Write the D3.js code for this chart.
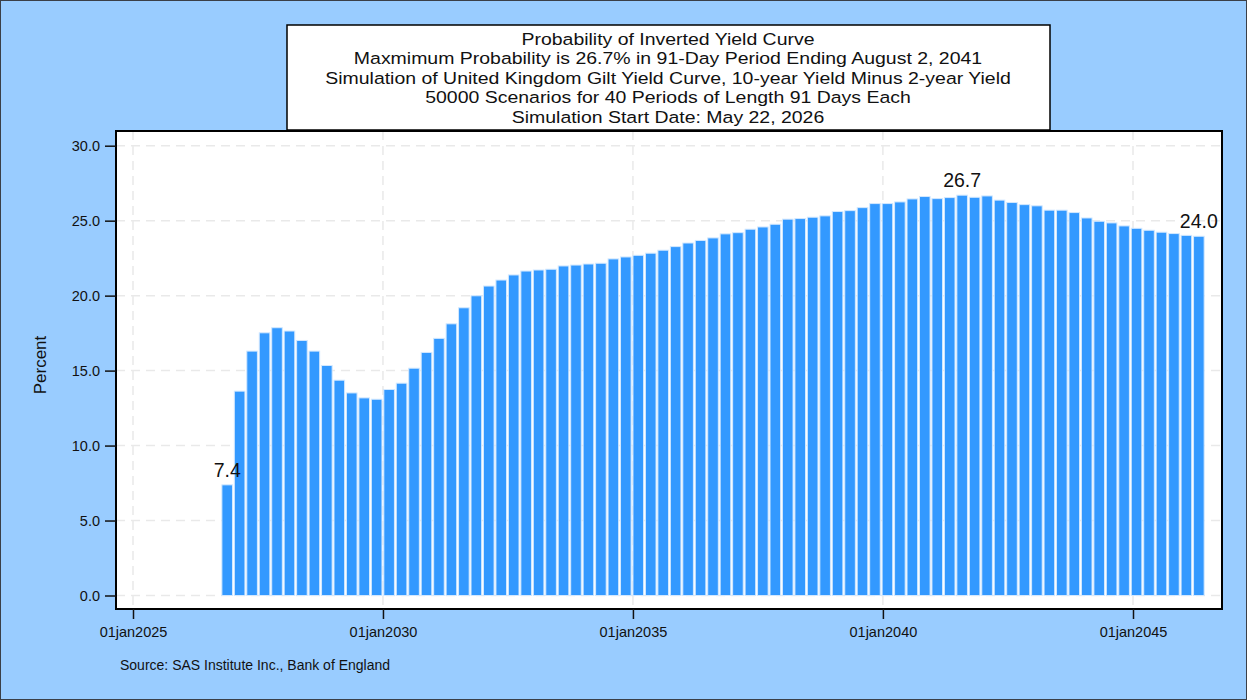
<!DOCTYPE html>
<html>
<head>
<meta charset="utf-8">
<script src="https://cdn.jsdelivr.net/npm/d3@7"></script>
<style>
  body { margin: 0; background: #fff; }
  text { font-family: "Liberation Sans", Arial, sans-serif; fill: #111; }
</style>
</head>
<body>
<script>
const SvgWidth = 1247, SvgHeight = 700;
var plot = {left: 116, top: 131, right: 1222, bottom: 609};
var Width = plot.right - plot.left;
var Height = plot.bottom - plot.top;

// simulation periods: 91 days each from the start date, bars at period end
const startDate = new Date(Date.UTC(2026, 4, 22));
const periodDays = 91;
const firstPeriod = 2;
var probability = [
  7.38, 13.63, 16.30, 17.52, 17.86, 17.64, 17.01, 16.30, 15.34, 14.36,
  13.51, 13.18, 13.09, 13.74, 14.16, 15.16, 16.21, 17.15, 18.12, 19.19,
  19.99, 20.64, 21.04, 21.38, 21.64, 21.71, 21.76, 21.98, 22.04, 22.11,
  22.16, 22.45, 22.58, 22.69, 22.83, 23.03, 23.27, 23.51, 23.68, 23.85,
  24.12, 24.20, 24.43, 24.58, 24.76, 25.10, 25.14, 25.23, 25.32, 25.61,
  25.67, 25.87, 26.14, 26.14, 26.25, 26.45, 26.61, 26.47, 26.54, 26.70,
  26.56, 26.65, 26.37, 26.21, 26.07, 25.99, 25.70, 25.70, 25.54, 25.18,
  24.96, 24.85, 24.65, 24.49, 24.36, 24.23, 24.14, 24.02, 23.96
];
var labelled = [0, 59, 78];
var xTickYears = [2025, 2030, 2035, 2040, 2045];
var yTicks = [0, 5, 10, 15, 20, 25, 30];
var titleLines = [
  "Probability of Inverted Yield Curve",
  "Maxmimum Probability is 26.7% in 91-Day Period Ending August 2, 2041",
  "Simulation of United Kingdom Gilt Yield Curve, 10-year Yield Minus 2-year Yield",
  "50000 Scenarios for 40 Periods of Length 91 Days Each",
  "Simulation Start Date: May 22, 2026"
];

var data = probability.map(function(v, i){
  return {date: d3.utcDay.offset(startDate, periodDays * (i + firstPeriod)), value: v};
});

var svg = d3.select('body')
  .append('svg')
  .attr('width', SvgWidth)
  .attr('height', SvgHeight);

svg.append('rect')
  .attr('x', 0.5).attr('y', 0.5)
  .attr('width', SvgWidth - 1).attr('height', SvgHeight - 1)
  .attr('fill', '#99ccff')
  .attr('stroke', '#3a3f47');

// title box (SAS title font is a bit wide, so stretch it horizontally)
var tb = svg.append('g');
tb.append('rect')
  .attr('x', 287).attr('y', 25)
  .attr('width', 763).attr('height', 105)
  .attr('fill', '#fff')
  .attr('stroke', '#000')
  .attr('stroke-width', 1.5);
tb.selectAll('text')
  .data(titleLines)
  .enter().append('text')
  .attr('transform', function(d, i){ return 'translate(668,' + (44.5 + i * 19.5) + ') scale(1.18,1)'; })
  .attr('text-anchor', 'middle')
  .style('font-size', '16.5px')
  .text(function(d){ return d; });

var g = svg.append('g')
  .attr('transform', 'translate(' + plot.left + ',' + plot.top + ')');

g.append('rect')
  .attr('width', Width).attr('height', Height)
  .attr('fill', '#fff');

var x = d3.scaleUtc()
  .domain([new Date(Date.UTC(2025, 0, 1)), new Date(Date.UTC(2045, 0, 1))])
  .range([17, 1017]);
var y = d3.scaleLinear()
  .domain([0, 30])
  .range([Height - 13.5, 14.7]);

var xTicks = xTickYears.map(function(yr){ return new Date(Date.UTC(yr, 0, 1)); });

// grid
g.selectAll('.hgrid')
  .data(yTicks)
  .enter().append('line')
  .attr('x1', 0).attr('x2', Width)
  .attr('y1', function(d){ return y(d); })
  .attr('y2', function(d){ return y(d); })
  .attr('stroke', '#e9e9e9')
  .attr('stroke-width', 1.5)
  .attr('stroke-dasharray', '9,6');
g.selectAll('.vgrid')
  .data(xTicks)
  .enter().append('line')
  .attr('x1', function(d){ return x(d); })
  .attr('x2', function(d){ return x(d); })
  .attr('y1', 0).attr('y2', Height)
  .attr('stroke', '#e9e9e9')
  .attr('stroke-width', 1.5)
  .attr('stroke-dasharray', '9,6');

var bw = 10.6;
g.selectAll('.bar')
  .data(data)
  .enter().append('rect')
  .attr('class', 'bar')
  .attr('fill', '#3399ff')
  .attr('stroke', '#d2e8ff')
  .attr('stroke-width', 1)
  .attr('x', function(d){ return x(d.date) - bw / 2; })
  .attr('y', function(d){ return y(d.value); })
  .attr('width', bw)
  .attr('height', function(d){ return y(0) - y(d.value); });

g.selectAll('.lbl')
  .data(labelled.map(function(i){ return data[i]; }))
  .enter().append('text')
  .attr('x', function(d){ return x(d.date); })
  .attr('y', function(d){ return y(d.value) - 8; })
  .attr('text-anchor', 'middle')
  .style('font-size', '19.5px')
  .text(function(d){ return d3.format('.1f')(d.value); });

// frame
g.append('rect')
  .attr('width', Width).attr('height', Height)
  .attr('fill', 'none')
  .attr('stroke', '#000')
  .attr('stroke-width', 2);

var yAxis = g.append('g')
  .call(d3.axisLeft(y).tickValues(yTicks).tickFormat(d3.format('.1f')).tickSize(11).tickPadding(5));
var xAxis = g.append('g')
  .attr('transform', 'translate(0,' + Height + ')')
  .call(d3.axisBottom(x).tickValues(xTicks).tickFormat(d3.utcFormat('01jan%Y')).tickSize(10).tickPadding(8));
[yAxis, xAxis].forEach(function(a){
  a.select('.domain').remove();
  a.selectAll('line').attr('stroke', '#111').attr('stroke-width', 1.5);
  a.selectAll('text').style('font-size', '14.5px').attr('fill', '#111')
    .style('font-family', '"Liberation Sans", Arial, sans-serif');
});

svg.append('text')
  .attr('transform', 'translate(46,365) rotate(-90)')
  .attr('text-anchor', 'middle')
  .style('font-size', '17px')
  .text('Percent');

svg.append('text')
  .attr('x', 120).attr('y', 670)
  .style('font-size', '14px')
  .text('Source: SAS Institute Inc., Bank of England');
</script>
</body>
</html>
